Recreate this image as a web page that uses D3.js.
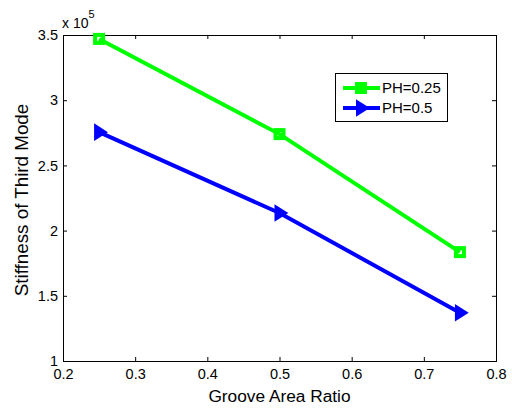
<!DOCTYPE html>
<html>
<head>
<meta charset="utf-8">
<script src="https://cdn.jsdelivr.net/npm/d3@7"></script>
<style>
  body { margin: 0; background: #fff; }
  svg { font-family: "Liberation Sans", Arial, sans-serif; }
</style>
</head>
<body>
<div id="chart"></div>
<script>
// groove area ratio on x, stiffness (x 1e5) on y
const ratios = [0.25, 0.5, 0.75];
const ph025 = [3.47, 2.74, 1.835];
const ph05 = [2.755, 2.135, 1.37];
const xTicks = [0.2, 0.3, 0.4, 0.5, 0.6, 0.7, 0.8];
const yTicks = [1, 1.5, 2, 2.5, 3, 3.5];

var width = 512, height = 411;
var margin = { top: 35, right: 16, bottom: 50, left: 63 };
var plotW = 496 - margin.left, plotH = 361 - margin.top;

var svg = d3.select('#chart').append('svg')
    .attr('width', width)
    .attr('height', height);

var x = d3.scaleLinear().domain([0.2, 0.8]).range([0, plotW]);
var y = d3.scaleLinear().domain([1, 3.5]).range([plotH, 0]);

var g = svg.append('g')
    .attr('transform', 'translate(' + margin.left + ',' + margin.top + ')');

g.append('rect')
    .attr('width', plotW).attr('height', plotH)
    .attr('fill', '#fff');

// axes with inward ticks, matlab style
function styleAxis(sel) {
    sel.attr('font-size', 14.5).attr('font-family', '"Liberation Sans", Arial, sans-serif');
    sel.select('.domain').attr('stroke', '#000').attr('stroke-width', 1);
    sel.selectAll('.tick line').attr('stroke', '#000');
    sel.selectAll('.tick text').attr('fill', '#000');
}

g.append('g')
    .attr('transform', 'translate(0,' + plotH + ')')
    .call(d3.axisBottom(x).tickValues(xTicks).tickSize(-4).tickPadding(8).tickFormat(d3.format('.1f')))
    .call(styleAxis);

g.append('g')
    .call(d3.axisTop(x).tickValues(xTicks).tickSize(-4).tickFormat(''))
    .call(styleAxis);

g.append('g')
    .call(d3.axisLeft(y).tickValues(yTicks).tickSize(-4).tickPadding(5).tickFormat(d3.format('')))
    .call(styleAxis);

g.append('g')
    .attr('transform', 'translate(' + plotW + ',0)')
    .call(d3.axisRight(y).tickValues(yTicks).tickSize(-4).tickFormat(''))
    .call(styleAxis);

// exponent label
var ex = svg.append('text')
    .attr('x', 62).attr('y', 28)
    .attr('font-size', 14);
ex.append('tspan').text('x 10');
ex.append('tspan').attr('dy', -10).attr('font-size', 11).text('5');

// axis labels
svg.append('text')
    .attr('x', margin.left + plotW / 2).attr('y', 402)
    .attr('text-anchor', 'middle')
    .attr('font-size', 17.3)
    .text('Groove Area Ratio');

svg.append('text')
    .attr('transform', 'translate(28,' + 200 + ') rotate(-90)')
    .attr('text-anchor', 'middle')
    .attr('font-size', 18.8)
    .text('Stiffness of Third Mode');

var line = d3.line().x(d => x(d[0])).y(d => y(d[1]));

function squareMarker(sel, cx, cy, color) {
    sel.append('rect')
        .attr('x', cx - 4).attr('y', cy - 4)
        .attr('width', 8).attr('height', 8)
        .attr('fill', 'none').attr('stroke', color).attr('stroke-width', 4);
}

function triMarker(sel, cx, cy, color) {
    sel.append('path')
        .attr('d', 'M' + (cx - 4) + ',' + (cy - 7) + 'L' + (cx + 7) + ',' + cy + 'L' + (cx - 4) + ',' + (cy + 7) + 'Z')
        .attr('fill', color).attr('stroke', color).attr('stroke-width', 2)
        .attr('stroke-linejoin', 'miter');
}

var series = [
    { name: 'PH=0.25', vals: ph025, color: '#00ff00', marker: squareMarker },
    { name: 'PH=0.5', vals: ph05, color: '#0000ff', marker: triMarker }
];

series.forEach(function(s) {
    var pts = ratios.map((r, i) => [r, s.vals[i]]);
    g.append('path')
        .datum(pts)
        .attr('d', line)
        .attr('fill', 'none')
        .attr('stroke', s.color)
        .attr('stroke-width', 4);
    pts.forEach(function(p) {
        s.marker(g, x(p[0]), y(p[1]), s.color);
    });
});

// legend
var leg = svg.append('g');
leg.append('rect')
    .attr('x', 335.5).attr('y', 73.5)
    .attr('width', 112).attr('height', 48)
    .attr('fill', '#fff').attr('stroke', '#000');
series.forEach(function(s, i) {
    var ly = 88 + i * 20;
    leg.append('line')
        .attr('x1', 343).attr('x2', 380)
        .attr('y1', ly).attr('y2', ly)
        .attr('stroke', s.color).attr('stroke-width', 4);
    s.marker(leg, 361, ly, s.color);
    leg.append('text')
        .attr('x', 382).attr('y', ly + 5)
        .attr('font-size', 15)
        .text(s.name);
});
</script>
</body>
</html>
